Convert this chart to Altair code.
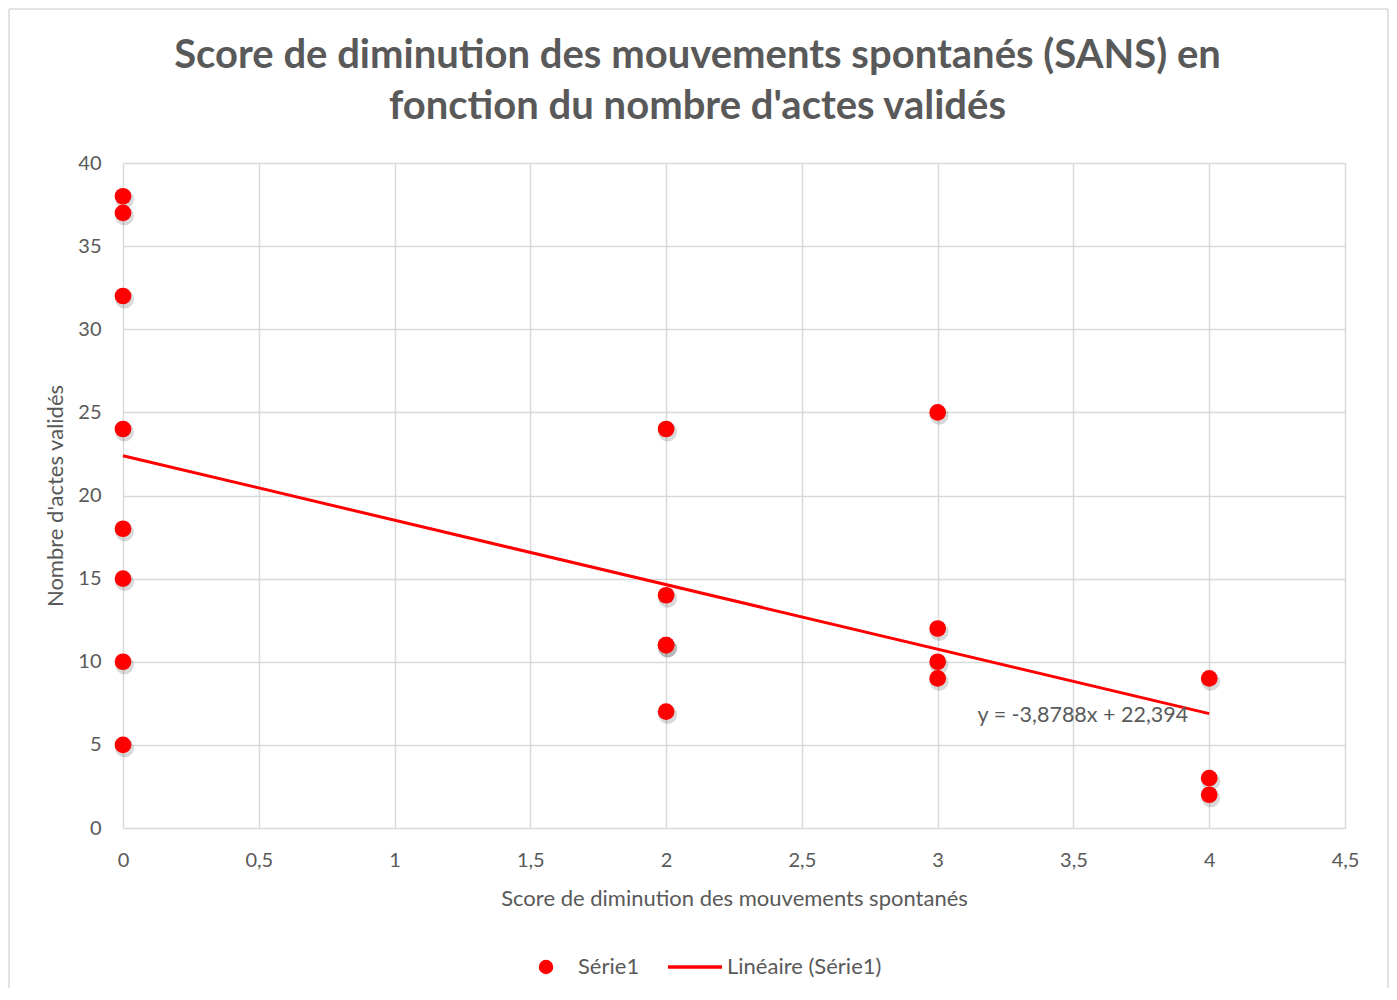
import altair as alt
import pandas as pd

# ---- data ----
score = [0, 0, 0, 0, 0, 0, 0, 0, 2, 2, 2, 2, 2, 3, 3, 3, 3, 4, 4, 4]
actes = [38, 37, 32, 24, 18, 15, 10, 5, 24, 14, 11, 11, 7, 25, 12, 10, 9, 9, 3, 2]
slope = -3.8788
intercept = 22.394
x_ticks = [0, 0.5, 1, 1.5, 2, 2.5, 3, 3.5, 4, 4.5]
y_ticks = [0, 5, 10, 15, 20, 25, 30, 35, 40]
title_lines = ["Score de diminution des mouvements spontanés (SANS) en",
               "fonction du nombre d'actes validés"]
x_title = "Score de diminution des mouvements spontanés"
y_title = "Nombre d'actes validés"
equation = "y = -3,8788x + 22,394"
legend_labels = ["Série1", "Linéaire (Série1)"]

RED = "#ff0000"
GREY_TXT = "#595959"
GRID = "#d9d9d9"
FONT = "Lato"
W, H = 1222, 665

df = pd.DataFrame({"x": score, "y": actes})
trend = pd.DataFrame({"x": [min(score), max(score)]})
trend["y"] = slope * trend["x"] + intercept

xscale = alt.Scale(domain=[0, 4.5], nice=False, zero=False)
yscale = alt.Scale(domain=[0, 40], nice=False)

x_axis = alt.Axis(values=x_ticks, title=x_title,
                  labelExpr="replace(toString(datum.value), '.', ',')",
                  grid=True, gridColor=GRID, gridWidth=1.5, domain=False, ticks=False,
                  labelPadding=22, labelFontSize=20, labelColor=GREY_TXT, labelFont=FONT,
                  labelFlush=False, labelOverlap=False,
                  titleFont=FONT, titleFontSize=22, titleFontWeight="normal", titleColor=GREY_TXT,
                  titleX=W / 2, titleY=70, titleBaseline="middle", titleAlign="center")
y_axis = alt.Axis(values=y_ticks, title=y_title,
                  grid=True, gridColor=GRID, gridWidth=1.5, domain=False, ticks=False,
                  labelPadding=22, labelFontSize=20, labelColor=GREY_TXT, labelFont=FONT,
                  labelFlush=False, labelOverlap=False,
                  titleFont=FONT, titleFontSize=22, titleFontWeight="normal", titleColor=GREY_TXT,
                  titleX=-68, titleY=H / 2, titleAngle=-90, titleBaseline="middle", titleAlign="center")

base = alt.Chart(df)

grid_layer = base.mark_point(opacity=0).encode(
    x=alt.X("x:Q", scale=xscale, axis=x_axis),
    y=alt.Y("y:Q", scale=yscale, axis=y_axis),
)

shadow = base.mark_circle(color="#000000", opacity=0.15, size=360).encode(
    x=alt.X("x:Q", scale=xscale), y=alt.Y("y:Q", scale=yscale),
    xOffset=alt.value(1.5), yOffset=alt.value(3),
)

points = base.mark_circle(color=RED, opacity=1, size=280).encode(
    x=alt.X("x:Q", scale=xscale), y=alt.Y("y:Q", scale=yscale),
)

line = alt.Chart(trend).mark_line(color=RED, strokeWidth=3).encode(
    x=alt.X("x:Q", scale=xscale), y=alt.Y("y:Q", scale=yscale),
)

eq = alt.Chart(pd.DataFrame({"t": [equation]})).mark_text(
    font=FONT, fontSize=21.5, color=GREY_TXT, align="left", baseline="middle"
).encode(x=alt.datum(3.147), y=alt.datum(6.74), text="t:N")

# chart title (two centred lines)
title1 = alt.Chart(pd.DataFrame({"t": [title_lines[0]]})).mark_text(
    font=FONT, fontSize=40, fontWeight="bold", color=GREY_TXT, align="center", baseline="middle"
).encode(x=alt.value(574.5), y=alt.value(-107), text="t:N")
title2 = alt.Chart(pd.DataFrame({"t": [title_lines[1]]})).mark_text(
    font=FONT, fontSize=40, fontWeight="bold", color=GREY_TXT, align="center", baseline="middle"
).encode(x=alt.value(574.5), y=alt.value(-56), text="t:N")

# manual legend (Excel style)
LY = 804
leg_pt = alt.Chart(pd.DataFrame({"l": [legend_labels[0]]})).mark_circle(color=RED, size=210, opacity=1).encode(
    x=alt.value(423), y=alt.value(LY))
leg_t1 = alt.Chart(pd.DataFrame({"l": [legend_labels[0]]})).mark_text(
    font=FONT, fontSize=22, color=GREY_TXT, align="left", baseline="middle").encode(
    x=alt.value(455), y=alt.value(LY), text="l:N")
leg_ln = alt.Chart(pd.DataFrame({"l": [legend_labels[1]]})).mark_rule(color=RED, strokeWidth=3.5).encode(
    x=alt.value(545), x2=alt.value(599), y=alt.value(LY))
leg_t2 = alt.Chart(pd.DataFrame({"l": [legend_labels[1]]})).mark_text(
    font=FONT, fontSize=22, color=GREY_TXT, align="left", baseline="middle").encode(
    x=alt.value(604), y=alt.value(LY), text="l:N")

# chart frame
fr = pd.DataFrame({"k": [0]})
frame_left = alt.Chart(fr).mark_rule(color=GRID, strokeWidth=1.5).encode(
    x=alt.value(-114), y=alt.value(-154), y2=alt.value(H + 170))
frame_top = alt.Chart(fr).mark_rule(color=GRID, strokeWidth=1.5).encode(
    x=alt.value(-114), x2=alt.value(W + 43), y=alt.value(-154))
frame_right = alt.Chart(fr).mark_rule(color=GRID, strokeWidth=1.5).encode(
    x=alt.value(W + 43), y=alt.value(-154), y2=alt.value(H + 170))

chart = alt.layer(
    grid_layer, frame_left, frame_top, frame_right, line, shadow, points, eq,
    title1, title2, leg_pt, leg_t1, leg_ln, leg_t2,
).properties(
    width=W, height=H,
    autosize=alt.AutoSizeParams(type="none"),
    padding={"left": 115, "top": 155, "right": 44, "bottom": 160},
    background="white",
).configure_view(stroke=None)

chart.save("out.html", embed_options={"renderer": "svg", "actions": False})
